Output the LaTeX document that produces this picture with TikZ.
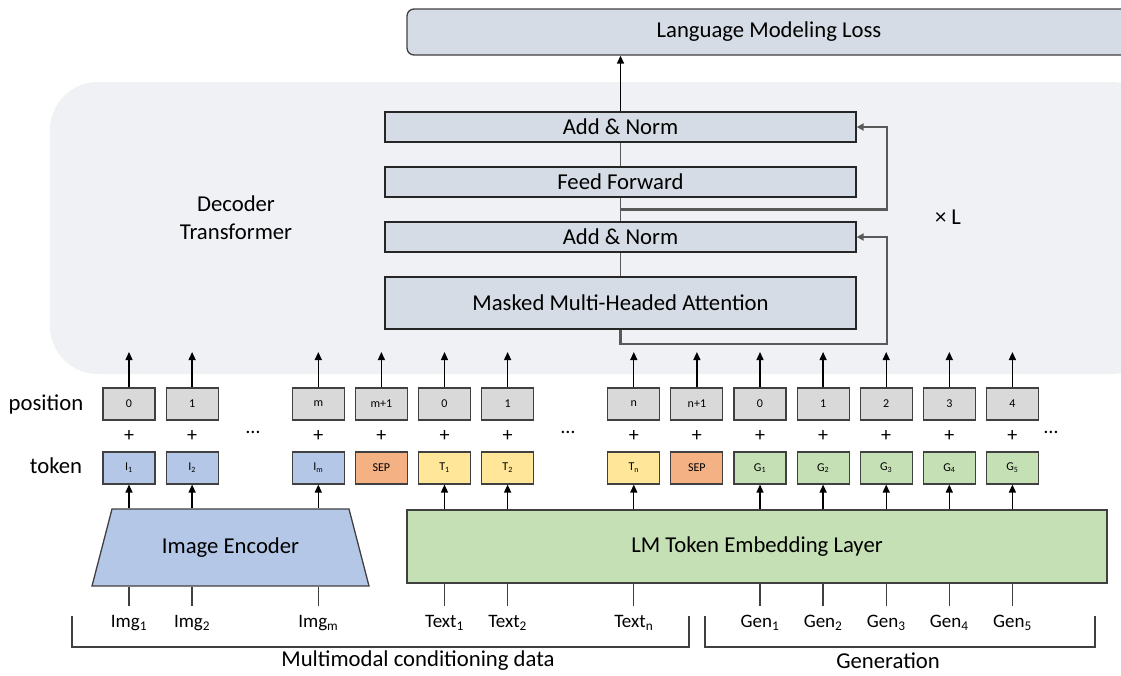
\documentclass[tikz,border=0pt]{standalone}
\usepackage{fontspec}
\setmainfont{Carlito}
\usetikzlibrary{arrows.meta,calc}

\definecolor{bgfill}{HTML}{F0F1F5}
\definecolor{stackfill}{HTML}{D6DCE5}
\definecolor{posfill}{HTML}{D9D9D9}
\definecolor{imgfill}{HTML}{B4C7E7}
\definecolor{sepfill}{HTML}{F4B183}
\definecolor{txtfill}{HTML}{FFE699}
\definecolor{genfill}{HTML}{C5E0B4}
\definecolor{resgray}{HTML}{595959}
\definecolor{edgegray}{HTML}{404040}

\newcommand{\bigfont}{\fontsize{22.7}{28}\selectfont}
\newcommand{\midfont}{\fontsize{19}{23}\selectfont}
\newcommand{\tinyfont}{\fontsize{12}{14}\selectfont}

\begin{document}
\begin{tikzpicture}[x=1pt,y=-1pt,>={Triangle[length=8pt,width=7pt]},
		line width=1.3pt,
		stack node/.style={draw=black!85,fill=stackfill,minimum width=471pt,minimum height=30pt,inner sep=0pt,font=\bigfont},
		pos box/.style={draw=edgegray,fill=posfill,minimum width=52pt,minimum height=32pt,inner sep=0pt,line width=1.1pt,font=\tinyfont},
		tok box/.style={pos box},
		plus/.style={font=\fontsize{20}{22}\selectfont,inner sep=0pt},
		in label/.style={font=\midfont,anchor=north,inner xsep=0pt,inner ysep=9pt,text height=12pt,text depth=4pt},
		res line/.style={draw=resgray,line width=2.2pt,>={Triangle[length=7pt,width=7pt]}}]
		
		\useasboundingbox (0,0) rectangle (1121,675);
		\clip (0,0) rectangle (1121,675);
		
		% decoder background
		\fill[bgfill,rounded corners=48pt] (50,82) rectangle (1160,374);
		\node[font=\bigfont,align=center] (dec) at (236,218) {Decoder\\Transformer};
		\node[font=\bigfont] (times) at (948,217) {× L};
		
		% loss and decoder stack
		\node[draw=edgegray,fill=stackfill,rounded corners=7pt,minimum width=724pt,minimum height=46pt,font=\bigfont] (loss) at (769,32) {Language Modeling Loss};
		\node[stack node] (an2) at (620.5,127) {Add \& Norm};
		\node[stack node] (ff) at (620.5,182) {Feed Forward};
		\node[stack node] (an1) at (620.5,237) {Add \& Norm};
		\node[stack node,minimum height=52pt] (mha) at (620.5,303) {Masked Multi-Headed Attention};
		
		\draw[res line,line width=1.6pt] (mha) -- (an1) (an1) -- (ff) (ff) -- (an2);
		\draw[->,line width=1.5pt] (an2) -- (an2 |- loss.south);
		\draw[res line,->] (mha.south) -- ++(0,14) -| ($(an1.east)+(30,0)$) -- (an1.east);
		\coordinate (split) at ($(ff.south)!0.5!(an1.north)$);
		\draw[res line,->] (split) -| ($(an2.east)+(30,0)$) -- (an2.east);
		
		% position and token rows
		\node[font=\bigfont] (poslab) at (46,404) {position};
		\node[font=\bigfont] (toklab) at (56,466) {token};
		\foreach \k/\posl/\tokl/\fillc in {0/0/I\textsubscript{1}/imgfill,1/1/I\textsubscript{2}/imgfill,
			3/m/I\textsubscript{m}/imgfill,4/m+1/SEP/sepfill,5/0/T\textsubscript{1}/txtfill,6/1/T\textsubscript{2}/txtfill,
			8/n/T\textsubscript{n}/txtfill,9/n+1/SEP/sepfill,10/0/G\textsubscript{1}/genfill,11/1/G\textsubscript{2}/genfill,
			12/2/G\textsubscript{3}/genfill,13/3/G\textsubscript{4}/genfill,14/4/G\textsubscript{5}/genfill}{
			\pgfmathsetmacro\xx{129+63.1*\k}
			\node[pos box] (pos\k) at (\xx,404) {\posl};
			\node[tok box,fill=\fillc] (tok\k) at (\xx,468) {\tokl};
			\node[plus] (plus\k) at (\xx,436) {+};
			\coordinate (up\k) at (\xx,352);
			\draw[->] (pos\k) -- (up\k);
		}
		\node[plus] (dots1) at (253,432) {…};
		\node[plus] (dots2) at (568,432) {…};
		\node[plus] (dots3) at (1051,432) {…};
		
		% encoders
		\fill[imgfill,draw=edgegray] (92,586) -- (112,509) -- (349,509) -- (369,586) -- cycle;
		\node[minimum width=237pt,minimum height=77pt,inner sep=0pt,font=\bigfont] (enc) at (230.5,547.5) {Image Encoder};
		\node[draw=edgegray,fill=genfill,minimum width=700pt,minimum height=73pt,font=\bigfont] (lm) at (757,546.5) {LM Token Embedding Layer};
		\foreach \k in {0,1,3}
			\draw[->] (tok\k |- enc.north) -- (tok\k);
		\foreach \k in {5,6,8,10,11,12,13,14}
			\draw[->] (tok\k |- lm.north) -- (tok\k);
		
		% inputs
		\foreach \k/\lab in {0/Img\textsubscript{1},1/Img\textsubscript{2},3/Img\textsubscript{m}}{
			\pgfmathsetmacro\xx{129+63.1*\k}
			\node[in label] (in\k) at (\xx,606) {\lab};
			\draw[edgegray] (in\k) -- (in\k |- enc.south);
		}
		\foreach \k/\lab in {5/Text\textsubscript{1},6/Text\textsubscript{2},8/Text\textsubscript{n},
			10/Gen\textsubscript{1},11/Gen\textsubscript{2},12/Gen\textsubscript{3},13/Gen\textsubscript{4},14/Gen\textsubscript{5}}{
			\pgfmathsetmacro\xx{129+63.1*\k}
			\node[in label] (in\k) at (\xx,606) {\lab};
			\draw[edgegray] (in\k) -- (in\k |- lm.south);
		}
		
		% brackets
		\draw[edgegray] (72,616) -- (72,647) -- (689,647) -- (689,616);
		\draw[edgegray] (705,616) -- (705,647) -- (1095,647) -- (1095,616);
		\node[font=\bigfont] (multi) at (418,661) {Multimodal conditioning data};
		\node[font=\bigfont] (gen) at (888,661) {Generation};
\end{tikzpicture}
\end{document}
